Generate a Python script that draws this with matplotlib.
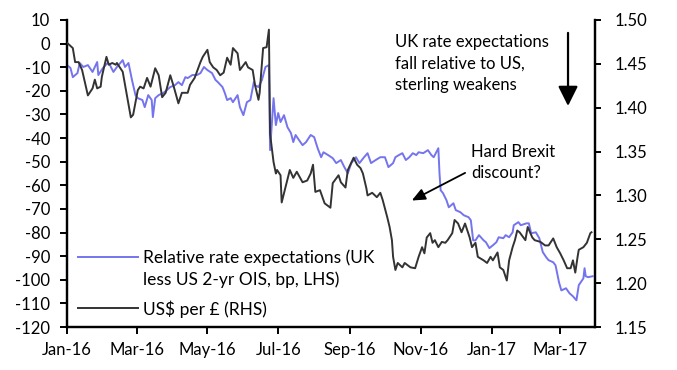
import matplotlib
matplotlib.use("Agg")
import matplotlib.pyplot as plt
from matplotlib.lines import Line2D
import pandas as pd

plt.rcParams['font.family'] = ['Lato', 'DejaVu Sans']

# US$ per GBP (RHS)
usd_dates = ["2016-01-01","2016-01-06","2016-01-08","2016-01-11","2016-01-14","2016-01-19","2016-01-23","2016-01-25",
             "2016-01-27","2016-01-30","2016-01-31","2016-02-04","2016-02-06","2016-02-09","2016-02-12","2016-02-13",
             "2016-02-18","2016-02-22","2016-02-25","2016-02-27","2016-03-02","2016-03-04","2016-03-07","2016-03-10",
             "2016-03-13","2016-03-17","2016-03-20","2016-03-23","2016-03-26","2016-03-30","2016-04-02","2016-04-06",
             "2016-04-09","2016-04-14","2016-04-16","2016-04-20","2016-04-25","2016-04-27","2016-05-01","2016-05-03",
             "2016-05-06","2016-05-09","2016-05-12","2016-05-15","2016-05-18","2016-05-21","2016-05-23","2016-05-27",
             "2016-05-29","2016-06-03","2016-06-05","2016-06-09","2016-06-11","2016-06-14","2016-06-15","2016-06-18",
             "2016-06-21","2016-06-23","2016-06-24","2016-06-27","2016-06-29","2016-06-30","2016-07-03","2016-07-04",
             "2016-07-07","2016-07-11","2016-07-14","2016-07-17","2016-07-22","2016-07-26","2016-07-29","2016-07-31",
             "2016-08-02","2016-08-06","2016-08-10","2016-08-15","2016-08-17","2016-08-22","2016-08-24","2016-08-28",
             "2016-08-30","2016-09-04","2016-09-07","2016-09-10","2016-09-12","2016-09-15","2016-09-16","2016-09-20",
             "2016-09-24","2016-09-27","2016-09-29","2016-10-03","2016-10-05","2016-10-07","2016-10-08","2016-10-10",
             "2016-10-12","2016-10-16","2016-10-18","2016-10-23","2016-10-27","2016-10-30","2016-11-02","2016-11-04",
             "2016-11-06","2016-11-09","2016-11-11","2016-11-13","2016-11-16","2016-11-19","2016-11-22","2016-11-24",
             "2016-11-28","2016-11-30","2016-12-03","2016-12-06","2016-12-09","2016-12-13","2016-12-15","2016-12-18",
             "2016-12-20","2016-12-25","2016-12-28","2016-12-31","2017-01-02","2017-01-06","2017-01-08","2017-01-11",
             "2017-01-14","2017-01-16","2017-01-19","2017-01-21","2017-01-23","2017-01-25","2017-01-30","2017-02-01",
             "2017-02-05","2017-02-07","2017-02-12","2017-02-16","2017-02-19","2017-02-23","2017-02-26","2017-03-01",
             "2017-03-04","2017-03-07","2017-03-10","2017-03-12","2017-03-14","2017-03-16","2017-03-17","2017-03-21",
             "2017-03-24","2017-03-27","2017-03-28"]
usd_values = [1.474,1.468,1.452,1.452,1.443,1.414,1.422,1.432,
              1.422,1.424,1.435,1.458,1.449,1.451,1.449,1.451,
              1.441,1.411,1.389,1.392,1.420,1.424,1.422,1.434,
              1.424,1.445,1.437,1.412,1.417,1.437,1.424,1.405,
              1.417,1.417,1.426,1.434,1.452,1.458,1.466,1.452,
              1.446,1.443,1.437,1.440,1.457,1.449,1.468,1.462,
              1.443,1.452,1.446,1.443,1.426,1.409,1.417,1.468,
              1.469,1.489,1.370,1.338,1.325,1.329,1.323,1.292,
              1.308,1.329,1.320,1.327,1.315,1.317,1.325,1.335,
              1.304,1.306,1.291,1.286,1.314,1.323,1.315,1.309,
              1.329,1.343,1.335,1.331,1.325,1.308,1.300,1.303,
              1.298,1.303,1.295,1.275,1.264,1.249,1.230,1.215,
              1.223,1.218,1.223,1.218,1.217,1.230,1.241,1.234,
              1.252,1.257,1.246,1.249,1.241,1.247,1.246,1.249,
              1.257,1.272,1.268,1.258,1.268,1.252,1.241,1.246,
              1.230,1.226,1.223,1.230,1.226,1.235,1.218,1.215,
              1.203,1.226,1.241,1.249,1.260,1.258,1.249,1.264,
              1.252,1.249,1.247,1.243,1.243,1.251,1.241,1.234,
              1.226,1.217,1.217,1.226,1.212,1.230,1.238,1.241,
              1.246,1.257,1.258]

# Relative rate expectations (UK less US 2-yr OIS, bp, LHS)
rate_dates = ["2016-01-01","2016-01-04","2016-01-06","2016-01-10","2016-01-12","2016-01-15","2016-01-19","2016-01-23",
              "2016-01-27","2016-01-28","2016-02-01","2016-02-05","2016-02-07","2016-02-10","2016-02-13","2016-02-18",
              "2016-02-20","2016-02-23","2016-02-26","2016-02-29","2016-03-02","2016-03-06","2016-03-08","2016-03-11",
              "2016-03-14","2016-03-15","2016-03-17","2016-03-20","2016-03-24","2016-03-27","2016-03-30","2016-04-03",
              "2016-04-06","2016-04-09","2016-04-12","2016-04-14","2016-04-18","2016-04-22","2016-04-25","2016-04-28",
              "2016-05-01","2016-05-05","2016-05-08","2016-05-10","2016-05-14","2016-05-16","2016-05-18","2016-05-21",
              "2016-05-23","2016-05-27","2016-05-29","2016-06-01","2016-06-04","2016-06-07","2016-06-10","2016-06-11",
              "2016-06-14","2016-06-17","2016-06-20","2016-06-23","2016-06-24","2016-06-27","2016-06-29","2016-07-01",
              "2016-07-03","2016-07-06","2016-07-09","2016-07-12","2016-07-14","2016-07-16","2016-07-19","2016-07-22",
              "2016-07-25","2016-07-29","2016-08-01","2016-08-04","2016-08-07","2016-08-09","2016-08-13","2016-08-17",
              "2016-08-20","2016-08-24","2016-08-27","2016-08-30","2016-09-02","2016-09-06","2016-09-09","2016-09-13",
              "2016-09-16","2016-09-19","2016-09-23","2016-09-27","2016-10-01","2016-10-04","2016-10-08","2016-10-10",
              "2016-10-13","2016-10-16","2016-10-19","2016-10-22","2016-10-25","2016-10-28","2016-10-30","2016-11-03",
              "2016-11-07","2016-11-10","2016-11-12","2016-11-16","2016-11-17","2016-11-18","2016-11-20","2016-11-23",
              "2016-11-25","2016-11-29","2016-12-01","2016-12-05","2016-12-08","2016-12-12","2016-12-14","2016-12-16",
              "2016-12-18","2016-12-21","2016-12-25","2016-12-27","2016-12-30","2017-01-02","2017-01-05","2017-01-07",
              "2017-01-11","2017-01-13","2017-01-16","2017-01-19","2017-01-20","2017-01-24","2017-01-26","2017-01-31",
              "2017-02-02","2017-02-04","2017-02-08","2017-02-11","2017-02-14","2017-02-17","2017-02-19","2017-02-23",
              "2017-02-25","2017-02-28","2017-03-02","2017-03-06","2017-03-09","2017-03-12","2017-03-15","2017-03-17",
              "2017-03-21","2017-03-22","2017-03-23","2017-03-25","2017-03-29"]
rate_values = [-9.1,-10.3,-14.2,-12.5,-8.2,-9.9,-9.1,-12.0,
               -7.8,-13.3,-10.3,-8.2,-9.1,-12.0,-9.9,-7.0,
               -9.9,-8.2,-15.4,-21.8,-23.1,-23.9,-26.9,-21.8,
               -23.9,-31.1,-23.1,-21.8,-20.9,-19.7,-18.4,-17.6,
               -16.3,-17.6,-14.2,-14.6,-13.3,-13.3,-12.5,-9.9,
               -11.2,-12.5,-15.4,-16.3,-18.4,-20.9,-23.9,-23.1,
               -24.8,-21.8,-26.9,-30.3,-24.8,-23.9,-16.3,-17.6,
               -18.4,-15.4,-9.9,-9.1,-45.1,-23.1,-34.5,-29.4,
               -33.2,-30.3,-35.4,-37.9,-41.7,-38.7,-40.9,-43.0,
               -41.7,-38.7,-39.6,-44.3,-48.1,-46.0,-47.2,-48.5,
               -50.6,-49.3,-52.3,-54.9,-50.6,-48.1,-50.6,-48.1,
               -46.4,-50.6,-49.3,-48.1,-48.1,-52.3,-50.6,-48.1,
               -47.2,-46.4,-49.3,-48.1,-46.4,-47.2,-46.0,-46.4,
               -45.1,-47.2,-48.1,-44.3,-54.9,-62.1,-63.3,-66.3,
               -69.3,-67.6,-70.5,-71.4,-72.7,-73.5,-74.8,-83.3,
               -83.3,-81.1,-83.3,-84.1,-86.6,-85.4,-84.1,-82.0,
               -82.4,-81.1,-82.0,-79.9,-76.9,-75.6,-76.9,-76.1,
               -76.1,-80.3,-79.9,-82.4,-88.3,-90.5,-91.7,-92.6,
               -93.9,-101.1,-104.5,-103.6,-105.7,-107.0,-108.7,-102.3,
               -99.4,-95.1,-98.5,-98.9,-98.5]

month_ticks = ["2016-01-01","2016-03-01","2016-05-01","2016-07-01","2016-09-01","2016-11-01","2017-01-01","2017-03-01"]
month_labels = ["Jan-16","Mar-16","May-16","Jul-16","Sep-16","Nov-16","Jan-17","Mar-17"]
left_ticks = list(range(-120, 11, 10))
right_ticks = [1.15, 1.20, 1.25, 1.30, 1.35, 1.40, 1.45, 1.50]

BLUE = "#7474EE"
DARK = "#333333"
FS = 12
LFS = 12.5

fig = plt.figure(figsize=(6.77, 3.70), dpi=100)
ax = fig.add_axes([67/677, 1-327/370, (595-67)/677, (327-20)/370])
ax2 = ax.twinx()

rd = pd.to_datetime(rate_dates)
ud = pd.to_datetime(usd_dates)
ax.plot(rd, rate_values, color=BLUE, lw=1.4, zorder=3)
ax2.plot(ud, usd_values, color=DARK, lw=1.4, zorder=3)

ax.set_xlim(pd.Timestamp("2016-01-01"), pd.Timestamp("2017-03-31"))
ax.set_ylim(-120, 10)
ax2.set_ylim(1.15, 1.50)
ax.set_yticks(left_ticks)
ax.set_yticklabels([str(t) for t in left_ticks])
ax2.set_yticks(right_ticks)
ax2.set_yticklabels([f"{t:.2f}" for t in right_ticks])
ax.set_xticks(pd.to_datetime(month_ticks))
ax.set_xticklabels(month_labels)

for a in (ax, ax2):
    a.spines['top'].set_visible(False)
    for s in ('left', 'right', 'bottom'):
        a.spines[s].set_linewidth(1.6)
        a.spines[s].set_color('black')
ax.tick_params(axis='y', direction='out', length=5, width=1.4, pad=7, labelsize=FS)
ax.tick_params(axis='x', direction='out', length=5, width=1.4, pad=6, labelsize=FS)
ax2.tick_params(axis='y', direction='out', length=4, width=1.4, pad=10, labelsize=FS)

# Legend drawn by hand so the first handle sits level with the first text line
tr = ax.transAxes
ax.add_line(Line2D([0.021, 0.134], [0.228, 0.228], transform=tr, color=BLUE, lw=1.4, clip_on=False))
ax.add_line(Line2D([0.021, 0.134], [0.062, 0.062], transform=tr, color=DARK, lw=1.4, clip_on=False))
ax.text(0.144, 0.226, "Relative rate expectations (UK", transform=tr, ha='left', va='center', fontsize=LFS)
ax.text(0.144, 0.154, "less US 2-yr OIS, bp, LHS)", transform=tr, ha='left', va='center', fontsize=LFS)
ax.text(0.144, 0.057, "US$ per £ (RHS)", transform=tr, ha='left', va='center', fontsize=LFS)

for yy, s in zip([0.928, 0.858, 0.787], ["UK rate expectations", "fall relative to US,", "sterling weakens"]):
    ax.text(0.621, yy, s, transform=tr, ha='left', va='center', fontsize=FS)
ax.annotate("", xy=(0.9489, 0.72), xycoords='axes fraction', xytext=(0.9489, 0.958), textcoords='axes fraction',
            arrowprops=dict(arrowstyle='-|>,head_width=0.6,head_length=1.2', color='black', lw=1.6,
                            shrinkA=0, shrinkB=0))
for yy, s in zip([0.570, 0.500], ["Hard Brexit", "discount?"]):
    ax.text(0.765, yy, s, transform=tr, ha='left', va='center', fontsize=FS)
ax.annotate("", xy=(0.653, 0.412), xycoords='axes fraction', xytext=(0.754, 0.502), textcoords='axes fraction',
            arrowprops=dict(arrowstyle='-|>,head_width=0.35,head_length=0.8', color='black', lw=1.3,
                            shrinkA=0, shrinkB=0))

fig.savefig("out.png", dpi=100)
